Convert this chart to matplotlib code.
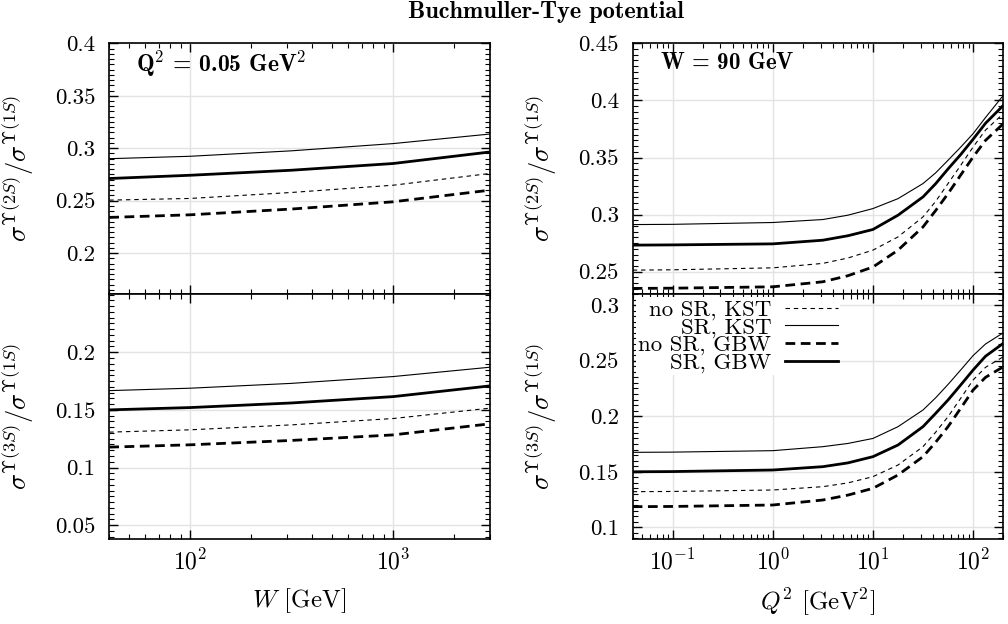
import matplotlib
matplotlib.use("Agg")
import matplotlib.pyplot as plt
from matplotlib.ticker import MultipleLocator, FixedLocator, LogLocator, NullFormatter, FormatStrFormatter

plt.rcParams.update({
    "font.family": "serif",
    "font.serif": ["cmr10"],
    "mathtext.fontset": "cm",
    "axes.formatter.use_mathtext": True,
    "axes.unicode_minus": False,
    "font.size": 12,
})

# ---------------- data ----------------
W = [40, 100, 316, 1000, 3000]
# Upsilon(2S)/Upsilon(1S) vs W, Q^2 = 0.05 GeV^2
r2_noSR_KST_W = [0.2505, 0.2521, 0.2578, 0.2647, 0.2759]
r2_SR_KST_W = [0.2900, 0.2923, 0.2975, 0.3044, 0.3135]
r2_noSR_GBW_W = [0.2340, 0.2365, 0.2420, 0.2489, 0.2600]
r2_SR_GBW_W = [0.2711, 0.2742, 0.2790, 0.2854, 0.2964]
# Upsilon(3S)/Upsilon(1S) vs W
r3_noSR_KST_W = [0.1307, 0.1327, 0.1370, 0.1425, 0.1515]
r3_SR_KST_W = [0.1667, 0.1688, 0.1730, 0.1789, 0.1870]
r3_noSR_GBW_W = [0.1177, 0.1197, 0.1235, 0.1283, 0.1379]
r3_SR_GBW_W = [0.1500, 0.1520, 0.1560, 0.1615, 0.1708]

Q2 = [0.04, 0.1, 1, 3.16, 5.62, 10, 17.8, 31.6, 42.2, 56.2, 75, 100, 133, 200]
# Upsilon(2S)/Upsilon(1S) vs Q^2, W = 90 GeV
r2_noSR_KST_Q = [0.2514, 0.2517, 0.2534, 0.2573, 0.2620, 0.2689, 0.2805, 0.2980, 0.3115, 0.3272, 0.3430, 0.3592, 0.3740, 0.3884]
r2_SR_KST_Q = [0.2913, 0.2915, 0.2931, 0.2957, 0.2995, 0.3053, 0.3140, 0.3272, 0.3365, 0.3476, 0.3590, 0.3709, 0.3850, 0.4044]
r2_noSR_GBW_Q = [0.2354, 0.2356, 0.2368, 0.2412, 0.2465, 0.2541, 0.2689, 0.2892, 0.3035, 0.3184, 0.3345, 0.3505, 0.3650, 0.3796]
r2_SR_GBW_Q = [0.2733, 0.2735, 0.2744, 0.2776, 0.2815, 0.2870, 0.2995, 0.3155, 0.3270, 0.3400, 0.3525, 0.3660, 0.3800, 0.3956]
# Upsilon(3S)/Upsilon(1S) vs Q^2
r3_noSR_KST_Q = [0.1321, 0.1323, 0.1336, 0.1366, 0.1400, 0.1456, 0.1561, 0.1726, 0.1855, 0.1996, 0.2160, 0.2326, 0.2440, 0.2535]
r3_SR_KST_Q = [0.1675, 0.1677, 0.1690, 0.1726, 0.1755, 0.1800, 0.1906, 0.2056, 0.2165, 0.2286, 0.2415, 0.2546, 0.2650, 0.2751]
r3_noSR_GBW_Q = [0.1186, 0.1188, 0.1201, 0.1246, 0.1290, 0.1351, 0.1471, 0.1636, 0.1765, 0.1906, 0.2070, 0.2236, 0.2350, 0.2445]
r3_SR_GBW_Q = [0.1500, 0.1502, 0.1516, 0.1546, 0.1580, 0.1636, 0.1741, 0.1906, 0.2025, 0.2146, 0.2280, 0.2416, 0.2540, 0.2656]

labels = ["no SR, KST", "SR, KST", "no SR, GBW", "SR, GBW"]
# ---------------------------------------

styles = [
    dict(color="black", lw=0.8, dashes=(4.0, 3.5)),
    dict(color="black", lw=0.8, ls="-"),
    dict(color="black", lw=2.0, dashes=(3.5, 2.0)),
    dict(color="black", lw=2.0, ls="-"),
]

fig = plt.figure(figsize=(10.08, 6.24), dpi=100)
gs = fig.add_gridspec(2, 2, left=0.1084, right=0.9953, top=0.9306, bottom=0.1362,
                      hspace=0, wspace=0.38, width_ratios=[380.7, 370.6],
                      height_ratios=[250.7, 245])
ax_lt = fig.add_subplot(gs[0, 0])
ax_lb = fig.add_subplot(gs[1, 0], sharex=ax_lt)
ax_rt = fig.add_subplot(gs[0, 1])
ax_rb = fig.add_subplot(gs[1, 1], sharex=ax_rt)

panels = [
    (ax_lt, W, [r2_noSR_KST_W, r2_SR_KST_W, r2_noSR_GBW_W, r2_SR_GBW_W]),
    (ax_lb, W, [r3_noSR_KST_W, r3_SR_KST_W, r3_noSR_GBW_W, r3_SR_GBW_W]),
    (ax_rt, Q2, [r2_noSR_KST_Q, r2_SR_KST_Q, r2_noSR_GBW_Q, r2_SR_GBW_Q]),
    (ax_rb, Q2, [r3_noSR_KST_Q, r3_SR_KST_Q, r3_noSR_GBW_Q, r3_SR_GBW_Q]),
]

for ax, x, ys in panels:
    for y, st, lab in zip(ys, styles, labels):
        ax.plot(x, y, label=lab, **st)
    ax.set_xscale("log")
    ax.grid(True, which="major", color="#e3e3e3", lw=1.0)
    ax.set_axisbelow(True)
    ax.tick_params(which="both", direction="in", top=True, right=True)
    ax.tick_params(which="major", length=6.5, width=1.0)
    ax.tick_params(which="minor", length=3.5, width=0.8)
    ax.tick_params(axis="x", which="major", pad=7, labelsize=17)
    ax.tick_params(axis="y", which="major", pad=10, labelsize=16.5)
    ax.yaxis.set_minor_locator(MultipleLocator(0.005))
    ax.yaxis.set_major_formatter(FormatStrFormatter("%g"))
    ax.xaxis.set_minor_locator(LogLocator(base=10, subs=range(2, 10), numticks=20))
    ax.xaxis.set_minor_formatter(NullFormatter())
    for s in ax.spines.values():
        s.set_linewidth(1.2)

ax_lt.set_xlim(40, 3000)
ax_rt.set_xlim(0.04, 200)

ax_lt.set_ylim(0.161, 0.4)
ax_lt.yaxis.set_major_locator(FixedLocator([0.2, 0.25, 0.3, 0.35, 0.4]))
ax_lb.set_ylim(0.038, 0.2505)
ax_lb.yaxis.set_major_locator(FixedLocator([0.05, 0.1, 0.15, 0.2]))
ax_rt.set_ylim(0.2305, 0.45)
ax_rt.yaxis.set_major_locator(FixedLocator([0.25, 0.3, 0.35, 0.4, 0.45]))
ax_rb.set_ylim(0.0895, 0.31)
ax_rb.yaxis.set_major_locator(FixedLocator([0.1, 0.15, 0.2, 0.25, 0.3]))

for ax in (ax_lt, ax_rt):
    ax.tick_params(labelbottom=False)

ylab2 = r"$\sigma^{\Upsilon(2S)}/\sigma^{\Upsilon(1S)}$"
ylab3 = r"$\sigma^{\Upsilon(3S)}/\sigma^{\Upsilon(1S)}$"
ax_lt.set_ylabel(ylab2, fontsize=19)
ax_lb.set_ylabel(ylab3, fontsize=19)
ax_rt.set_ylabel(ylab2, fontsize=19)
ax_rb.set_ylabel(ylab3, fontsize=19)
for ax in (ax_lt, ax_lb):
    ax.yaxis.set_label_coords(-0.192, 0.5)
for ax in (ax_rt, ax_rb):
    ax.yaxis.set_label_coords(-0.2, 0.5)

ax_lb.set_xlabel(r"$W$ [GeV]", fontsize=18, labelpad=9)
ax_rb.set_xlabel(r"$Q^2$ [GeV$^2$]", fontsize=18, labelpad=9)

ax_lt.text(0.07, 0.92, r"$\mathbf{Q^2}$ = 0.05 GeV$^\mathbf{2}$", transform=ax_lt.transAxes,
           fontfamily="cmb10", fontsize=17, va="center", ha="left")
ax_rt.text(0.075, 0.92, r"$\mathbf{W}$ = 90 GeV", transform=ax_rt.transAxes,
           fontfamily="cmb10", fontsize=16.5, va="center", ha="left")

leg = ax_rb.legend(loc="upper left", markerfirst=False, fontsize=16.5,
                   handlelength=2.3, handletextpad=0.6, labelspacing=-0.12,
                   borderpad=0.1, borderaxespad=0.15, frameon=True, fancybox=False,
                   framealpha=1.0, edgecolor="none", facecolor="white")

fig.text(0.542, 0.980, "Buchmuller-Tye potential", fontfamily="cmb10", fontsize=17.5,
         ha="center", va="center")

fig.savefig("out.png", dpi=100)
